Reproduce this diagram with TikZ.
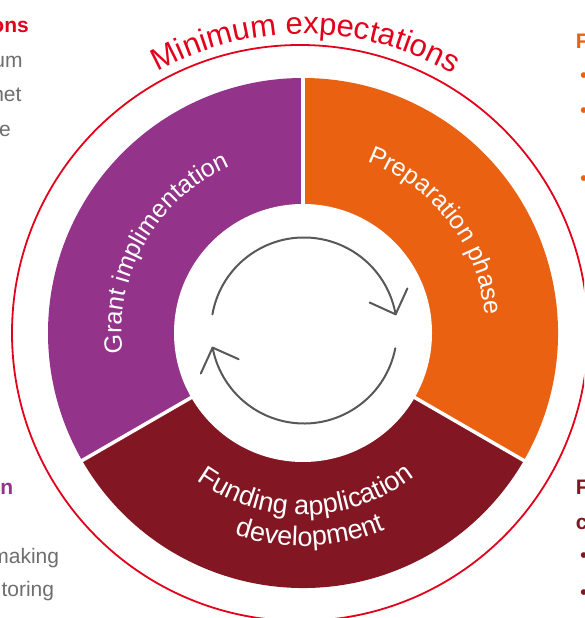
\documentclass[tikz,border=0pt]{standalone}
\usepackage{fontspec}
\setmainfont{Liberation Sans}
\usetikzlibrary{calc,decorations.text}

\definecolor{cpurple}{RGB}{147,52,138}
\definecolor{corange}{RGB}{235,97,18}
\definecolor{cdarkred}{RGB}{130,23,35}
\definecolor{cred}{RGB}{226,0,26}
\definecolor{carrow}{RGB}{88,88,88}
\definecolor{cgrey}{RGB}{110,110,110}

\newcommand{\segfont}[1]{\fontsize{#1}{#1}\selectfont\color{white}}
\newcommand{\titlefont}{\fontsize{31}{31}\selectfont\color{cred}}

\begin{document}
\begin{tikzpicture}[x=1pt,y=1pt,
  gap/.style={white, line width=3.5pt},
  ring/.style={cred, line width=1.8pt},
  cyclearc/.style={carrow, line width=2pt, line cap=round, line join=round},
  arclabel/.style={decorate, decoration={text along path, text align=center, text={#1}}},
  sidetext/.style={font=\fontsize{21}{21}\selectfont, text=cgrey, inner sep=0pt},
  sidehead/.style={font=\fontsize{21}{21}\selectfont\bfseries, text=#1, inner sep=0pt},
  bullet/.style={font=\fontsize{21}{21}\selectfont, text=#1, inner sep=0pt, anchor=base west}]

\useasboundingbox (0,0) rectangle (584,618);
\clip (0,0) rectangle (584,618);

\coordinate (c) at (303,285);
\coordinate (rc) at (300,285);
\coordinate (a) at (304,287.5);

% outer red ring
\draw[ring] (rc) circle[radius=288];

% three phase sectors
\fill[corange]  (c) -- ++(-30:255) arc[start angle=-30, end angle=90, radius=255] -- cycle;
\fill[cpurple]  (c) -- ++(90:255)  arc[start angle=90, end angle=210, radius=255] -- cycle;
\fill[cdarkred] (c) -- ++(210:255) arc[start angle=210, end angle=330, radius=255] -- cycle;

% white separators and hub
\draw[gap] (c) -- ++(90:258);
\draw[gap] (c) -- ++(210:258);
\draw[gap] (c) -- ++(330:258);
\fill[white] (c) circle[radius=129];

% ring title
\path[arclabel={|\titlefont|Minimum expectations}]
  ($(c)+(150:299)$) arc[start angle=150, end angle=29, radius=299];

% phase labels
\path[arclabel={|\segfont{25}|Preparation phase}]
  ($(c)+(97.5:183)$) arc[start angle=97.5, end angle=-22.5, radius=183];
\path[arclabel={|\segfont{25}|Grant implimentation}]
  ($(c)+(210:181.5)$) arc[start angle=210, end angle=90, radius=181.5];
\path[arclabel={|\segfont{27}|Funding application}]
  ($(c)+(206:182)$) arc[start angle=206, end angle=336, radius=182];
\path[arclabel={|\segfont{27}|development}]
  ($(c)+(207:213)$) arc[start angle=207, end angle=337, radius=213];

% cycle arrows in the hub
\coordinate (t1) at ($(a)+(10:93)$);
\coordinate (t2) at ($(a)+(190.6:93)$);
\draw[cyclearc] ($(a)+(170:93)$) arc[start angle=170, end angle=10, radius=93];
\draw[cyclearc] ($(t1)+(155.5:28.5)$) -- (t1) -- ($(t1)+(65.5:28.5)$);
\draw[cyclearc] ($(a)+(-11:93)$) arc[start angle=-11, end angle=-169.4, radius=93];
\draw[cyclearc] ($(t2)+(-24:28.5)$) -- (t2) -- ($(t2)+(245.5:28.5)$);

% side columns
\node[sidehead=cred, anchor=base east] (lh1) at (29,585) {ons};
\node[sidetext, anchor=base east] (l1) at (22.7,550) {um};
\node[sidetext, anchor=base east] (l2) at (21.7,516.3) {net};
\node[sidetext, anchor=base east] (l3) at (11,481.3) {e};

\node[sidehead=cpurple, anchor=base east] (lh2) at (13.3,123) {n};
\node[sidetext, anchor=base east] (l4) at (59.3,54) {making};
\node[sidetext, anchor=base east] (l5) at (54.3,21.3) {toring};

\node[sidehead=corange, anchor=base west] (rh1) at (575.6,569.7) {F};
\node[bullet=corange] (rb1) at (580,535.2) {•};
\node[bullet=corange] (rb2) at (580,500.2) {•};
\node[bullet=corange] (rb3) at (580,432.2) {•};

\node[sidehead=cdarkred, anchor=base west] (rh2) at (575.6,123) {F};
\node[sidehead=cdarkred, anchor=base west] (rh3) at (575.6,88) {c};
\node[bullet=cdarkred] (rb4) at (580,55.2) {•};
\node[bullet=cdarkred] (rb5) at (580,18.5) {•};

\end{tikzpicture}
\end{document}
